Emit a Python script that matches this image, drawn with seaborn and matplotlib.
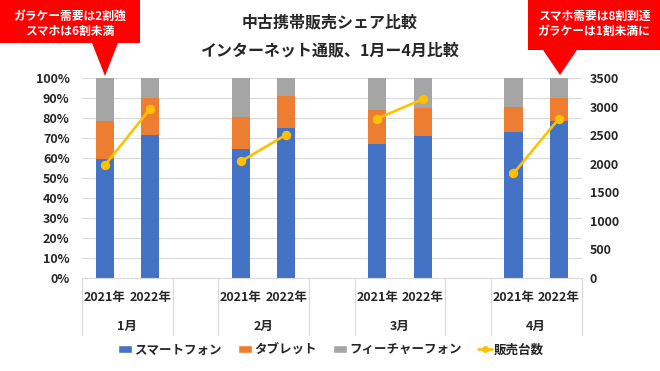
import matplotlib
matplotlib.use("Agg")
import matplotlib.pyplot as plt
from matplotlib.patches import Polygon, Patch
from matplotlib.lines import Line2D
from matplotlib.transforms import blended_transform_factory
import numpy as np
import pandas as pd
import seaborn as sns

# ---- data ----
months = ['1月', '2月', '3月', '4月']
years = ['2021年', '2022年']
smart = [59.5, 71.5, 64.3, 75.2, 66.8, 71.2, 72.8, 78.5]
tablet = [19.0, 18.5, 16.0, 16.0, 17.2, 14.0, 12.9, 11.3]
feature = [21.5, 10.0, 19.7, 8.8, 16.0, 14.8, 14.3, 10.2]
sales = [1970, 2960, 2040, 2510, 2790, 3130, 1830, 2790]
series_names = ['スマートフォン', 'タブレット', 'フィーチャーフォン', '販売台数']
title_lines = ['中古携帯販売シェア比較', 'インターネット通販、1月ー4月比較']
callout_left = 'ガラケー需要は2割強\nスマホは6割未満'
callout_right = 'スマホ需要は8割到達\nガラケーは1割未満に'

C_SMART, C_TAB, C_FEAT, C_LINE = '#4472C4', '#ED7D31', '#A5A5A5', '#FFC000'
TXT = '#262626'

sns.set_style('white')
plt.rcParams['font.family'] = ['Noto Sans CJK JP', 'DejaVu Sans']

# build table
rows = []
for mi, m in enumerate(months):
    for yi, y in enumerate(years):
        k = mi * 2 + yi
        rows.append(dict(month=m, year=y, cat=f'{m}{y}', pos=mi * 3 + yi,
                         smart=smart[k], tablet=tablet[k], feature=feature[k],
                         sales=sales[k]))
df = pd.DataFrame(rows)
df['c1'] = df['smart']
df['c2'] = df['smart'] + df['tablet']
df['c3'] = df['c2'] + df['feature']

order = []
for mi, m in enumerate(months):
    order += [f'{m}{y}' for y in years]
    if mi < len(months) - 1:
        order.append(' ' * (mi + 1))

W, H = 660, 371
fig = plt.figure(figsize=(6.6, 3.71), dpi=100)
ax = fig.add_axes([82 / W, 1 - 278 / H, (581.6 - 82) / W, 200 / H])

for col, c in [('c3', C_FEAT), ('c2', C_TAB), ('c1', C_SMART)]:
    sns.barplot(data=df, x='cat', y=col, order=order, color=c, width=0.4,
                saturation=1, ax=ax, zorder=2, linewidth=0, edgecolor='none')

ax.set_ylim(0, 100)
ax.set_xlim(-0.5, len(order) - 0.5)
ax.set_yticks(np.arange(0, 101, 10))
ax.set_yticklabels([f'{v}%' for v in range(0, 101, 10)])
ax.yaxis.grid(True, color='#D9D9D9', lw=0.8, zorder=0)
ax.set_axisbelow(True)
for s in ax.spines.values():
    s.set_visible(False)
ax.set_xticks([])
ax.set_xlabel('')
ax.set_ylabel('')
ax.tick_params(axis='y', length=0, pad=9, labelsize=9, labelcolor=TXT)
for lab in ax.get_yticklabels():
    lab.set_fontweight('bold')

ax2 = ax.twinx()
sns.lineplot(data=df, x='pos', y='sales', units='month', estimator=None,
             color=C_LINE, lw=1.9, marker='o', markersize=6,
             markeredgecolor=C_LINE, ax=ax2, zorder=3)
ax2.set_ylim(0, 3500)
ax2.set_yticks(np.arange(0, 3501, 500))
ax2.set_ylabel('')
ax2.set_xlabel('')
for s in ax2.spines.values():
    s.set_visible(False)
ax2.tick_params(axis='y', length=0, pad=6, labelsize=9, labelcolor=TXT)
for lab in ax2.get_yticklabels():
    lab.set_fontweight('bold')
ax2.set_xlim(-0.5, len(order) - 0.5)
ax2.set_xticks([])

# category axis labels
tr = blended_transform_factory(ax.transData, ax.transAxes)
for mi, m in enumerate(months):
    for yi, y in enumerate(years):
        ax.text(mi * 3 + yi, -0.095, y, transform=tr, ha='center', va='center',
                fontsize=9, fontweight='bold', color=TXT, clip_on=False)
    ax.text(mi * 3 + 0.5, -0.24, m, transform=tr, ha='center', va='center',
            fontsize=9, fontweight='bold', color=TXT, clip_on=False)
    for xb in (mi * 3 - 0.5, mi * 3 + 1.5):
        ax.plot([xb, xb], [0, -0.285], transform=tr, color='#D9D9D9', lw=0.8,
                clip_on=False)
ax.plot([-0.5, len(order) - 0.5], [0, 0], transform=tr, color='#D9D9D9',
        lw=0.8, clip_on=False)

# titles
fig.text(0.5, 1 - 22 / H, title_lines[0], ha='center', va='center',
         fontsize=11.5, fontweight='bold', color=TXT)
fig.text(0.5, 1 - 50 / H, title_lines[1], ha='center', va='center',
         fontsize=11.5, fontweight='bold', color=TXT)

# callouts
def px(pts):
    return [(x / W, 1 - y / H) for x, y in pts]

left_poly = px([(0, 0), (140, 0), (140, 43), (118, 43), (105, 76), (92, 43), (0, 43)])
right_poly = px([(528, 0), (660, 0), (660, 50), (577, 50), (560, 75), (543, 50), (528, 50)])
for p in (left_poly, right_poly):
    fig.add_artist(Polygon(p, closed=True, transform=fig.transFigure,
                           facecolor='#FF0000', edgecolor='none', zorder=5))
fig.text(70 / W, 1 - 24 / H, callout_left, ha='center', va='center',
         fontsize=8.5, fontweight='bold', color='white', linespacing=1.2, zorder=6)
fig.text(594 / W, 1 - 24 / H, callout_right, ha='center', va='center',
         fontsize=8.5, fontweight='bold', color='white', linespacing=1.2, zorder=6)

# legend
handles = [Patch(facecolor=C_SMART), Patch(facecolor=C_TAB), Patch(facecolor=C_FEAT),
           Line2D([0], [0], color=C_LINE, lw=1.9, marker='o', markersize=4)]
leg = fig.legend(handles, series_names, loc='center', bbox_to_anchor=(331 / W, 1 - 350 / H),
                 ncol=4, frameon=False, fontsize=9, handlelength=1.1, handleheight=0.6,
                 handletextpad=0.2, columnspacing=1.3)
for t in leg.get_texts():
    t.set_fontweight('bold')
    t.set_color(TXT)

fig.savefig('out.png', dpi=100, facecolor='white')
